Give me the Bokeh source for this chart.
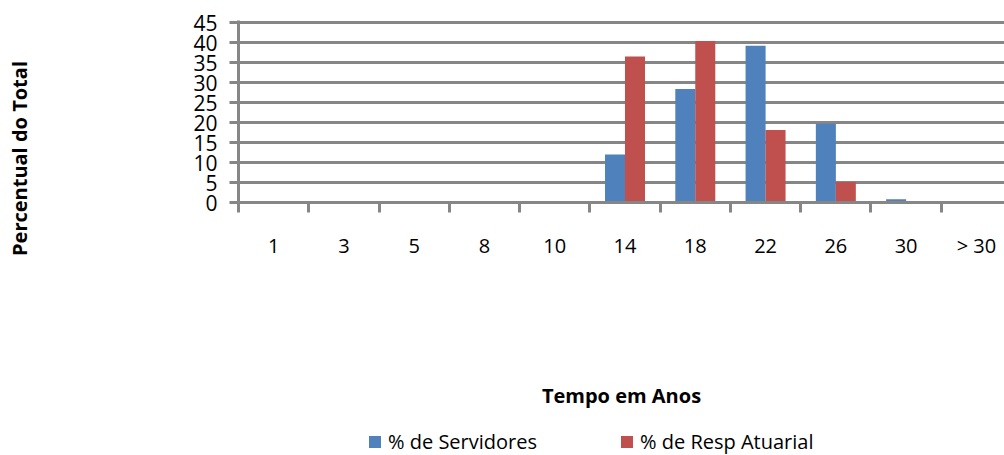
from bokeh.plotting import figure
from bokeh.layouts import row, column
from bokeh.models import (Range1d, FixedTicker, Legend, LegendItem,
                          ColumnDataSource)
from bokeh.core.properties import value
from bokeh.embed import file_html
from bokeh.resources import INLINE
import numpy as np

# Tempo em anos (classes) e percentuais
categorias = ["1", "3", "5", "8", "10", "14", "18", "22", "26", "30", "> 30"]
servidores = [0, 0, 0, 0, 0, 12.0, 28.4, 39.2, 19.7, 0.8, 0]
resp_atuarial = [0, 0, 0, 0, 0, 36.5, 40.4, 18.1, 5.1, 0, 0]
series = ["% de Servidores", "% de Resp Atuarial"]
y_ticks = [0, 5, 10, 15, 20, 25, 30, 35, 40, 45]

FONT = "Open Sans"
GRID = "#868686"
AZUL = "#4F81BD"
VERMELHO = "#C0504D"

W, H = 1004, 455
LEFT_W = 40     # faixa com o título do eixo y
LEG_H = 35      # faixa da legenda
TOP_H = H - LEG_H

idx = np.arange(len(categorias))
src = ColumnDataSource(dict(
    x_serv=idx - 0.142,
    x_resp=idx + 0.142,
    serv=servidores,
    resp=resp_atuarial,
))

p = figure(width=W - LEFT_W, height=TOP_H, output_backend="svg",
           toolbar_location=None,
           x_range=Range1d(-0.5, 10.4), y_range=Range1d(0, 45.5),
           min_border_left=238 - LEFT_W, min_border_right=0, min_border_top=20,
           min_border_bottom=TOP_H - 202)
p.outline_line_color = None
p.background_fill_color = "white"
p.border_fill_color = "white"

p.vbar(x="x_serv", top="serv", width=0.285, source=src,
       fill_color=AZUL, line_color=None)
p.vbar(x="x_resp", top="resp", width=0.285, source=src,
       fill_color=VERMELHO, line_color=None)

# eixo x: rótulos no centro das classes, marcas entre as classes
xax = p.xaxis[0]
xax.ticker = FixedTicker(ticks=list(idx),
                         minor_ticks=list(np.arange(-0.5, len(categorias), 1.0)))
xax.major_label_overrides = {int(i): c for i, c in zip(idx, categorias)}
xax.major_tick_out = 0
xax.major_tick_in = 0
xax.minor_tick_out = 10
xax.minor_tick_in = 0
xax.minor_tick_line_color = GRID
xax.minor_tick_line_width = 3
xax.axis_line_color = GRID
xax.axis_line_width = 3
xax.major_label_standoff = 19
xax.major_label_text_font = FONT
xax.major_label_text_font_size = "20px"
xax.major_label_text_color = "black"
xax.axis_label = "Tempo em Anos"
xax.axis_label_text_font = FONT
xax.axis_label_text_font_size = "20px"
xax.axis_label_text_font_style = "bold"
xax.axis_label_text_color = "black"
xax.axis_label_standoff = 120

yax = p.yaxis[0]
yax.ticker = FixedTicker(ticks=y_ticks)
yax.minor_tick_line_color = None
yax.major_tick_out = 9
yax.major_tick_in = 0
yax.major_tick_line_color = GRID
yax.major_tick_line_width = 3
yax.axis_line_color = GRID
yax.axis_line_width = 3
yax.major_label_standoff = 12
yax.major_label_text_font = FONT
yax.major_label_text_font_size = "21px"
yax.major_label_text_color = "black"

p.xgrid.grid_line_color = None
p.ygrid.grid_line_color = GRID
p.ygrid.grid_line_width = 3
p.ygrid.ticker = FixedTicker(ticks=y_ticks)

# título do eixo y, numa faixa estreita à esquerda
t = figure(width=LEFT_W, height=TOP_H, output_backend="svg",
           toolbar_location=None, frame_align=False,
           x_range=Range1d(0, LEFT_W), y_range=Range1d(0, TOP_H), min_border=0)
t.axis.visible = False
t.grid.visible = False
t.outline_line_color = None
t.text(x=[19], y=[TOP_H - 158], text=["Percentual do Total"], angle=np.pi / 2,
       text_font=value(FONT), text_font_size="20px", text_font_style="bold",
       text_color="black", text_align="center", text_baseline="middle")

# faixa inferior com a legenda das séries
lg = figure(width=W, height=LEG_H, output_backend="svg", toolbar_location=None,
            frame_align=False,
            x_range=Range1d(0, W), y_range=Range1d(0, LEG_H), min_border=0)
lg.axis.visible = False
lg.grid.visible = False
lg.outline_line_color = None
chave = ColumnDataSource(dict(x=[0], top=[0]))
k1 = lg.vbar(x="x", top="top", width=0, source=chave,
             fill_color=AZUL, line_color=None)
k2 = lg.vbar(x="x", top="top", width=0, source=chave,
             fill_color=VERMELHO, line_color=None)
legend = Legend(items=[LegendItem(label=series[0], renderers=[k1]),
                       LegendItem(label=series[1], renderers=[k2])],
                orientation="horizontal", location=(367, 0),
                glyph_width=15, glyph_height=15, label_standoff=6, spacing=82,
                padding=0, margin=0, border_line_color=None,
                background_fill_alpha=0,
                label_text_font=FONT, label_text_font_size="20px",
                label_text_color="black")
lg.add_layout(legend)

layout = column(row(t, p, spacing=0), lg, spacing=0)
open("out.html", "w").write(file_html(layout, INLINE))
